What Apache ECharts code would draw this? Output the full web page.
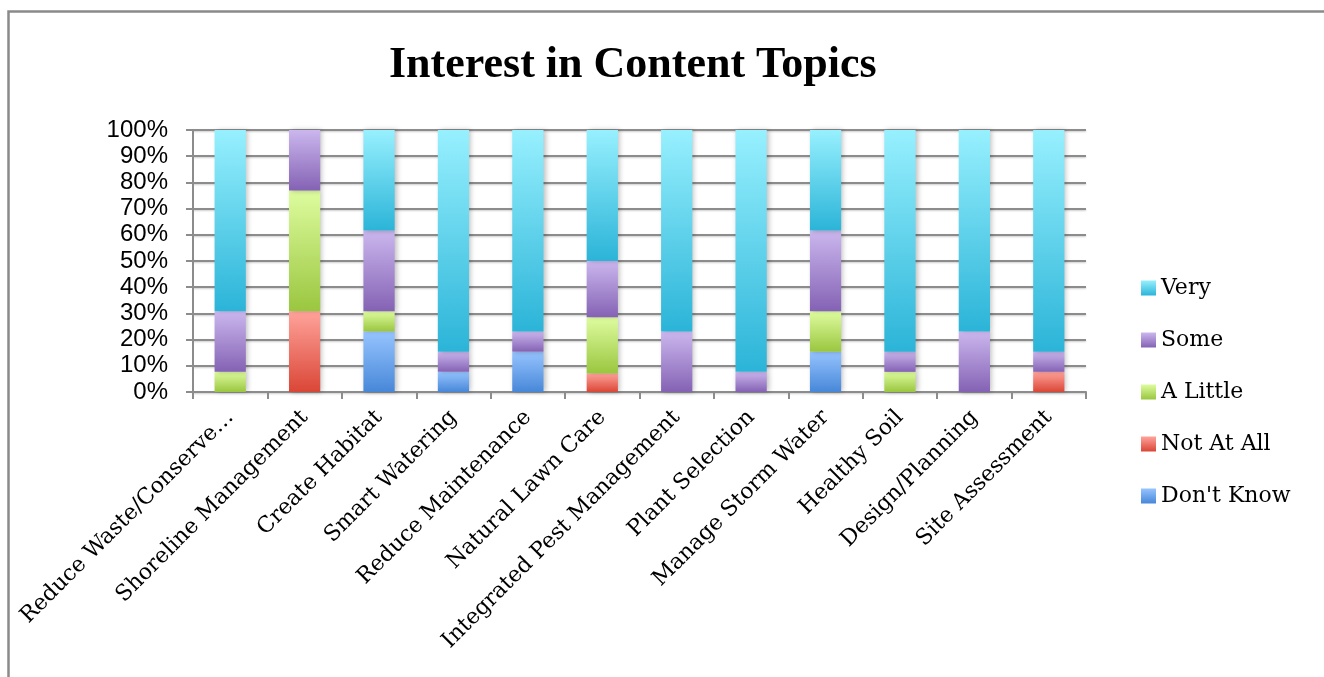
<!DOCTYPE html>
<html>
<head>
<meta charset="utf-8">
<script src="https://cdn.jsdelivr.net/npm/echarts@6/dist/echarts.min.js"></script>
<style>
html,body{margin:0;padding:0;background:#fff;}
#chart{width:1324px;height:677px;}
</style>
</head>
<body>
<div id="chart"></div>
<script>
const categories = ["Reduce Waste/Conserve…","Shoreline Management","Create Habitat","Smart Watering","Reduce Maintenance","Natural Lawn Care","Integrated Pest Management","Plant Selection","Manage Storm Water","Healthy Soil","Design/Planning","Site Assessment"];
const dontKnow = [0, 0, 23.1, 7.7, 15.4, 0, 0, 0, 15.4, 0, 0, 0];
const notAtAll = [0, 30.8, 0, 0, 0, 7.1, 0, 0, 0, 0, 0, 7.7];
const aLittle  = [7.7, 46.1, 7.7, 0, 0, 21.4, 0, 0, 15.4, 7.7, 0, 0];
const some     = [23.1, 23.1, 30.8, 7.7, 7.7, 21.5, 23.1, 7.7, 30.8, 7.7, 23.1, 7.7];
const very     = [69.2, 0, 38.4, 84.6, 76.9, 50.0, 76.9, 92.3, 38.4, 84.6, 76.9, 84.6];
const yTicks = [0,10,20,30,40,50,60,70,80,90,100];

function grad(top, bottom){
  return new echarts.graphic.LinearGradient(0,0,0,1,[{offset:0,color:top},{offset:1,color:bottom}]);
}
const seriesDefs = [
  {name:"Don't Know", data:dontKnow, c:grad('#96C4FF','#4787D8')},
  {name:"Not At All", data:notAtAll, c:grad('#FFA39B','#DA4636')},
  {name:"A Little",   data:aLittle,  c:grad('#DEFC9F','#9AC63F')},
  {name:"Some",       data:some,     c:grad('#CBB7EE','#8462B4')},
  {name:"Very",       data:very,     c:grad('#97F0FE','#2BB4D8')}
];

const chart = echarts.init(document.getElementById('chart'), null, {renderer:'canvas'});
const gridColor = '#8c8c8c';
chart.setOption({
  animation:false,
  backgroundColor:'#fff',
  title:{
    text:'Interest in Content Topics',
    left:384, top:39,
    textStyle:{fontFamily:'Liberation Serif', fontWeight:'bold', fontSize:44, color:'#000'}
  },
  legend:{
    data:['Very','Some','A Little','Not At All',"Don't Know"],
    orient:'vertical',
    left:1136, top:272,
    itemWidth:15, itemHeight:15, itemGap:30,
    icon:'rect',
    textStyle:{fontFamily:'DejaVu Serif', fontSize:22, lineHeight:22, color:'#000'}
  },
  graphic:[{
    type:'rect', left:6, top:9, silent:true,
    shape:{x:0,y:0,width:1400,height:800},
    style:{fill:'none', stroke:'#8a8a8a', lineWidth:2.5}
  }],
  grid:{left:193, right:238, top:130, bottom:285, containLabel:false},
  xAxis:{
    type:'category', data:categories,
    axisLine:{lineStyle:{color:gridColor, width:2}},
    axisTick:{show:true, length:7, lineStyle:{color:gridColor, width:2}, alignWithLabel:false},
    axisLabel:{rotate:45, interval:0, margin:22, padding:[16,0,0,0], fontFamily:'DejaVu Serif', fontSize:22, color:'#000'}
  },
  yAxis:{
    type:'value', min:0, max:100, interval:10,
    axisLine:{show:true, lineStyle:{color:gridColor, width:2}},
    axisTick:{show:true, length:7, lineStyle:{color:gridColor, width:2}},
    splitLine:{lineStyle:{color:gridColor, width:2, shadowColor:'rgba(0,0,0,0.2)', shadowBlur:2, shadowOffsetY:1}},
    axisLabel:{formatter:v=>v+'%', margin:25, fontFamily:'Liberation Sans', fontSize:24, color:'#000'}
  },
  series: seriesDefs.map(s=>({
    name:s.name, type:'bar', stack:'total', data:s.data, barWidth:'42%',
    itemStyle:{color:s.c, shadowColor:'rgba(0,0,0,0.25)', shadowBlur:5, shadowOffsetX:2}
  }))
});
</script>
</body>
</html>
